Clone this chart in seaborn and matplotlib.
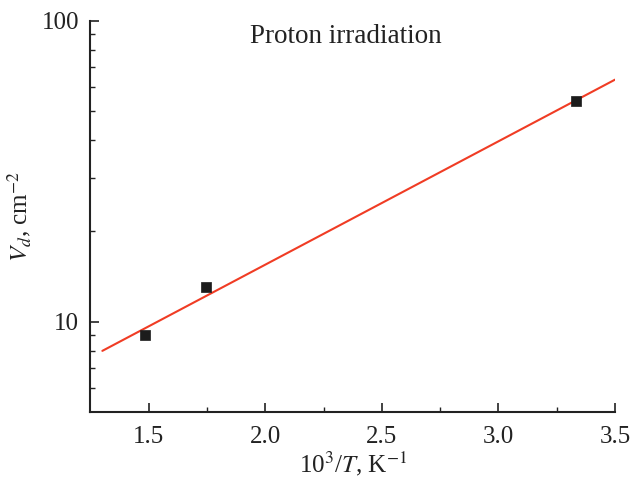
import numpy as np
import pandas as pd
import seaborn as sns
import matplotlib
matplotlib.use('Agg')
import matplotlib.pyplot as plt
from matplotlib.ticker import FixedLocator, NullFormatter

# measured points
inv_t = [1.483, 1.743, 3.333]
density = [9.05, 13.0, 54.0]

# fitted line (end points)
fit_x = [1.30, 3.50]
fit_y = [8.0, 63.7]

x_major = [1.5, 2.0, 2.5, 3.0, 3.5]
x_minor = [1.75, 2.25, 2.75, 3.25]
y_major = [10, 100]
y_minor = [6, 7, 8, 9, 20, 30, 40, 50, 60, 70, 80, 90]

sns.set_style('ticks')
plt.rcParams['font.family'] = ['Liberation Serif', 'DejaVu Serif']
plt.rcParams['mathtext.fontset'] = 'stix'

fig = plt.figure(figsize=(6.34, 4.84), dpi=100)
ax = fig.add_axes([90 / 634, 1 - 412.3 / 484, 525 / 634, 391.6 / 484])

points = pd.DataFrame({'x': inv_t, 'y': density})
fit = pd.DataFrame({'x': fit_x, 'y': fit_y})

sns.lineplot(data=fit, x='x', y='y', ax=ax, color='#f03c24', linewidth=1.5)
sns.scatterplot(data=points, x='x', y='y', ax=ax, marker='s', s=50,
                color='#1c1c1c', edgecolor='#1c1c1c', linewidth=0.5, zorder=3)

ax.set_yscale('log')
ax.set_xlim(1.247, 3.5)
ax.set_ylim(5, 100)

ax.xaxis.set_major_locator(FixedLocator(x_major))
ax.xaxis.set_minor_locator(FixedLocator(x_minor))
ax.set_xticklabels(['1.5', '2.0', '2.5', '3.0', '3.5'])
ax.yaxis.set_major_locator(FixedLocator(y_major))
ax.yaxis.set_minor_locator(FixedLocator(y_minor))
ax.set_yticklabels(['10', '100'])
ax.yaxis.set_minor_formatter(NullFormatter())

ax.tick_params(which='major', direction='in', length=6.5, width=1.2,
               labelsize=18, color='#222222', labelcolor='#222222', pad=8)
ax.tick_params(axis='x', which='major', pad=10)
ax.tick_params(which='minor', direction='in', length=3.8, width=1.0, color='#222222')

sns.despine(ax=ax)
for side in ['left', 'bottom']:
    ax.spines[side].set_linewidth(1.5)
    ax.spines[side].set_color('#222222')

ax.set_xlabel(r'10$^3$/$T$, K$^{-1}$', fontsize=18, color='#222222', labelpad=1)
ax.set_ylabel(r'$V_d$, cm$^{-2}$', fontsize=18, color='#222222', labelpad=6)

ax.text(0.488, 0.943, 'Proton irradiation', transform=ax.transAxes,
        ha='center', va='baseline', fontsize=19.5, color='#222222')

plt.savefig('out.png', dpi=100)
